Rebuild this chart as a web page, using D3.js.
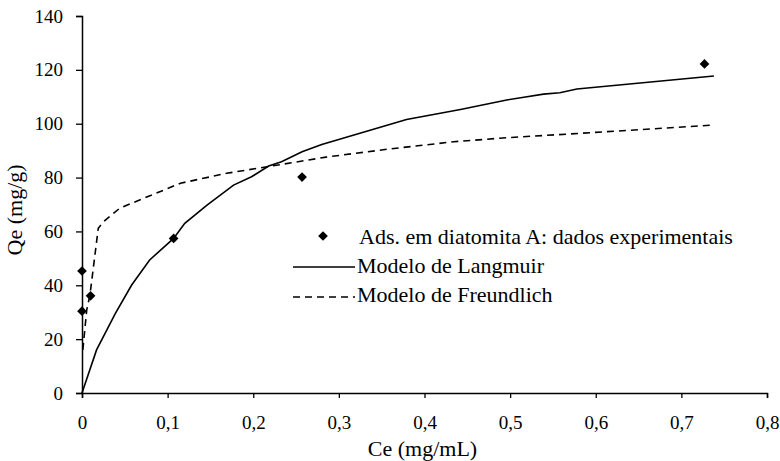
<!DOCTYPE html>
<html>
<head>
<meta charset="utf-8">
<script src="https://cdn.jsdelivr.net/npm/d3@7"></script>
</head>
<body style="margin:0">
<script>
// experimental points (Ce mg/mL, Qe mg/g)
var expCe = [0, 0, 0.010, 0.107, 0.257, 0.727];
var expQe = [45.3, 30.4, 36.1, 57.4, 80.2, 122.2];

// Langmuir model curve
var langCe = [0, 0.017, 0.039, 0.058, 0.079, 0.107, 0.120, 0.146, 0.177, 0.198, 0.218, 0.233, 0.257, 0.280, 0.379, 0.442, 0.496, 0.516, 0.539, 0.558, 0.578, 0.738];
var langQe = [0, 16, 29.6, 40.1, 49.4, 57.4, 63, 69.8, 77.2, 80.3, 84.3, 85.9, 89.6, 92.3, 101.6, 105.3, 108.8, 109.8, 111, 111.5, 112.9, 117.7];

// Freundlich model curve
var freCe = [0.001, 0.0055, 0.0093, 0.019, 0.025, 0.044, 0.072, 0.115, 0.169, 0.216, 0.285, 0.356, 0.434, 0.496, 0.570, 0.738];
var freQe = [16, 30.8, 36.4, 61.2, 63.6, 68.6, 72.3, 77.9, 81.6, 84.0, 87.6, 90.5, 93.3, 94.8, 96.2, 99.5];

var xTicks = [0, 0.1, 0.2, 0.3, 0.4, 0.5, 0.6, 0.7, 0.8];
var yTicks = [0, 20, 40, 60, 80, 100, 120, 140];

var legendLabels = ["Ads. em diatomita A: dados experimentais", "Modelo de Langmuir", "Modelo de Freundlich"];

var FONT = "'Liberation Serif'";

var svgW = 780, svgH = 461;
var margin = { top: 16, right: 13, bottom: 68, left: 82 };
var chartWidth = svgW - margin.left - margin.right;
var chartHeight = svgH - margin.top - margin.bottom;

var svg = d3.select("body").append("svg")
  .attr("width", svgW)
  .attr("height", svgH);

var g = svg.append("g")
  .attr("transform", "translate(" + margin.left + "," + margin.top + ")");

var xScale = d3.scaleLinear().domain([0, 0.8]).range([0, chartWidth]);
var yScale = d3.scaleLinear().domain([0, 140]).range([chartHeight, 0]);

var fmt = function (d) { return d === 0 ? "0" : d3.format(".1f")(d).replace(".", ","); };

var xAxis = d3.axisBottom(xScale).tickValues(xTicks).tickFormat(fmt).tickSizeOuter(0).tickSize(5).tickPadding(18);
var yAxis = d3.axisLeft(yScale).tickValues(yTicks).tickSizeOuter(0).tickSize(6).tickPadding(13);

var gx = g.append("g")
  .attr("transform", "translate(0," + chartHeight + ")")
  .call(xAxis);
var gy = g.append("g").call(yAxis);

[gx, gy].forEach(function (a) {
  a.attr("font-family", null).attr("font-size", null);
  a.select(".domain").attr("stroke", "#000").attr("stroke-width", 1.5);
  a.selectAll(".tick line").attr("stroke", "#000").attr("stroke-width", 1.3);
  a.selectAll(".tick text")
    .style("font-family", FONT)
    .style("font-size", "19px")
    .attr("fill", "#000");
});

// axis titles
g.append("text")
  .attr("x", xScale(0.4) - 2)
  .attr("y", chartHeight + 63)
  .attr("text-anchor", "middle")
  .style("font-family", FONT)
  .style("font-size", "22px")
  .text("Ce (mg/mL)");

g.append("text")
  .attr("transform", "rotate(-90)")
  .attr("x", -yScale(68))
  .attr("y", -60)
  .attr("text-anchor", "middle")
  .style("font-family", FONT)
  .style("font-size", "22px")
  .text("Qe (mg/g)");

var line = d3.line()
  .x(function (d) { return xScale(d[0]); })
  .y(function (d) { return yScale(d[1]); });

g.append("path")
  .datum(d3.zip(langCe, langQe))
  .attr("fill", "none")
  .attr("stroke", "#000")
  .attr("stroke-width", 1.6)
  .attr("d", line);

g.append("path")
  .datum(d3.zip(freCe, freQe))
  .attr("fill", "none")
  .attr("stroke", "#000")
  .attr("stroke-width", 1.6)
  .attr("stroke-dasharray", "7,5")
  .attr("d", line);

var diamond = d3.symbol().type(d3.symbolDiamond2).size(60);

g.selectAll(".pt")
  .data(d3.zip(expCe, expQe))
  .enter()
  .append("path")
  .attr("class", "pt")
  .attr("transform", function (d) { return "translate(" + xScale(d[0]) + "," + yScale(d[1]) + ")"; })
  .attr("d", diamond)
  .attr("fill", "#000");

// legend
var lg = svg.append("g");
lg.append("path")
  .attr("transform", "translate(323,236)")
  .attr("d", diamond)
  .attr("fill", "#000");
lg.append("line")
  .attr("x1", 293).attr("x2", 355).attr("y1", 267).attr("y2", 267)
  .attr("stroke", "#000").attr("stroke-width", 1.6);
lg.append("line")
  .attr("x1", 293).attr("x2", 355).attr("y1", 297).attr("y2", 297)
  .attr("stroke", "#000").attr("stroke-width", 1.6)
  .attr("stroke-dasharray", "7,5");

lg.selectAll(".lt")
  .data(legendLabels)
  .enter()
  .append("text")
  .attr("class", "lt")
  .attr("x", function (d, i) { return i === 0 ? 359 : 357; })
  .attr("y", function (d, i) { return 244 + i * 29; })
  .style("font-family", FONT)
  .style("font-size", "22px")
  .text(function (d) { return d; });
</script>
</body>
</html>
